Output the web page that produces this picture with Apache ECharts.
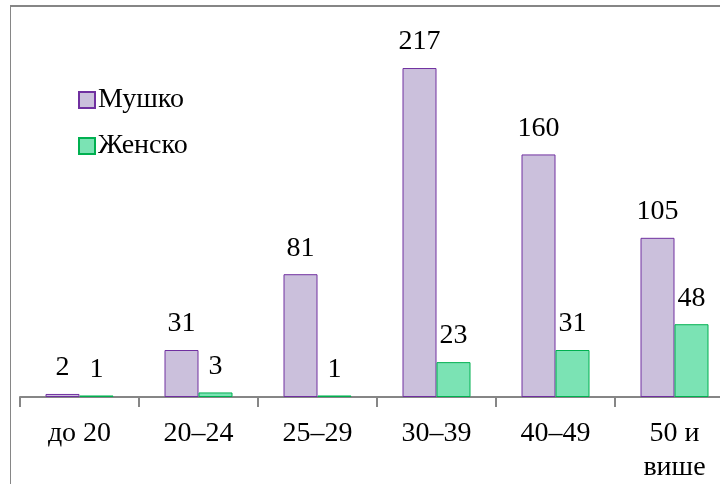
<!DOCTYPE html>
<html>
<head>
<meta charset="utf-8">
<script src="https://cdn.jsdelivr.net/npm/echarts@6/dist/echarts.min.js"></script>
<style>
  html, body { margin: 0; padding: 0; background: #ffffff; }
  #chart { width: 720px; height: 484px; }
</style>
</head>
<body>
<div id="chart"></div>
<script>
// Age groups and counts by sex
const categories = ['до 20', '20–24', '25–29', '30–39', '40–49', '50 и\nвише'];
const seriesNames = ['Мушко', 'Женско'];
const maleValues = [2, 31, 81, 217, 160, 105];
const femaleValues = [1, 3, 1, 23, 31, 48];

const FONT = "'Liberation Serif', 'DejaVu Serif', serif";

const chart = echarts.init(document.getElementById('chart'), null, { renderer: 'canvas' });

const labelStyle = {
  show: true,
  position: 'top',
  distance: 12,
  color: '#000000',
  fontFamily: FONT,
  fontSize: 28
};

chart.setOption({
  animation: false,
  backgroundColor: '#ffffff',
  textStyle: { fontFamily: FONT },
  graphic: [
    { type: 'line', shape: { x1: 10, y1: 6, x2: 720, y2: 6 }, style: { stroke: '#868686', lineWidth: 2 } },
    { type: 'line', shape: { x1: 10.5, y1: 5, x2: 10.5, y2: 484 }, style: { stroke: '#868686', lineWidth: 1 } }
  ],
  legend: {
    orient: 'vertical',
    left: 73,
    top: 81,
    itemWidth: 16,
    itemHeight: 16,
    itemGap: 18,
    icon: 'rect',
    textStyle: { fontFamily: FONT, fontSize: 28, color: '#000000', padding: [0, 0, 0, -2] },
    data: seriesNames
  },
  grid: { left: 20, width: 714, top: 18, height: 379, containLabel: false, outerBoundsMode: 'none' },
  xAxis: {
    type: 'category',
    data: categories,
    axisLine: { lineStyle: { color: '#868686', width: 2 } },
    axisTick: { show: true, length: 10, lineStyle: { color: '#868686', width: 2 } },
    axisLabel: {
      fontFamily: FONT,
      fontSize: 28,
      color: '#000000',
      margin: 20,
      lineHeight: 34
    }
  },
  yAxis: {
    type: 'value',
    min: 0,
    max: 250,
    show: false,
    splitLine: { show: false }
  },
  series: [
    {
      name: seriesNames[0],
      type: 'bar',
      data: maleValues,
      barWidth: 34,
      barGap: '0%',
      itemStyle: { color: '#CBC0DC', borderColor: '#7030A0', borderWidth: 1 },
      label: labelStyle
    },
    {
      name: seriesNames[1],
      type: 'bar',
      data: femaleValues,
      barWidth: 34,
      barGap: '0%',
      itemStyle: { color: '#7BE3B4', borderColor: '#00B050', borderWidth: 1 },
      label: labelStyle
    }
  ]
});
</script>
</body>
</html>
